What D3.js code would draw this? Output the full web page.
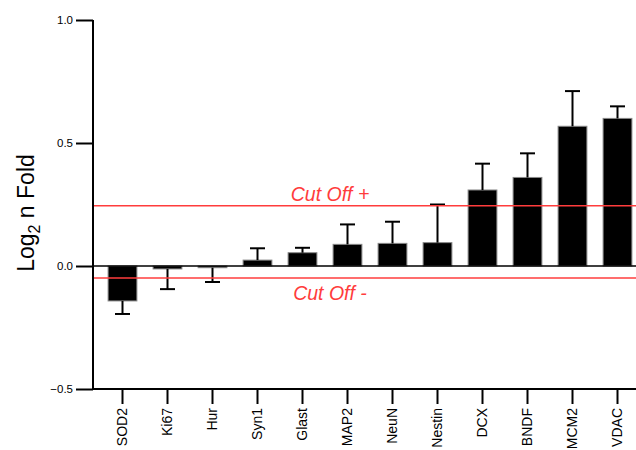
<!DOCTYPE html>
<html><head><meta charset="utf-8">
<script src="https://cdn.jsdelivr.net/npm/d3@7"></script>
<style>body{margin:0;background:#fff}svg{display:block}text{font-family:"Liberation Sans",Arial,Helvetica,sans-serif}</style>
</head><body>
<script>
const categories = ["SOD2","Ki67","Hur","Syn1","Glast","MAP2","NeuN","Nestin","DCX","BNDF","MCM2","VDAC"];
const values = [-0.142,-0.012,-0.007,0.024,0.054,0.088,0.092,0.095,0.309,0.360,0.568,0.600];
const errors = [0.053,0.082,0.058,0.048,0.020,0.081,0.088,0.155,0.107,0.098,0.143,0.049];
const yTicks = [-0.5,0,0.5,1.0];
const cutOffs = [{v:0.245,label:"Cut Off +",dy:-4.5},{v:-0.049,label:"Cut Off -",dy:21.5}];

const W=636,H=450;
const svg=d3.select("body").append("svg").attr("width",W).attr("height",H);
const y=d3.scaleLinear().domain([-0.5,1.0]).range([389,20]);
const x=d3.scaleBand().domain(categories).range([100,640]).paddingInner(0.36).paddingOuter(0.18);
const axL=93;
const red="#ff3c3c";

// bars
svg.selectAll("rect.bar").data(categories).enter().append("rect")
  .attr("x",d=>x(d)).attr("width",x.bandwidth())
  .attr("y",(d,i)=>y(Math.max(0,values[i])))
  .attr("height",(d,i)=>Math.abs(y(values[i])-y(0)))
  .attr("fill","#000").attr("stroke","#888").attr("stroke-width",1);

// error bars
const eb=svg.append("g").attr("stroke","#000").attr("stroke-width",2);
categories.forEach((c,i)=>{
  const cx=x(c)+x.bandwidth()/2;
  const v=values[i], e=values[i]>=0?v+errors[i]:v-errors[i];
  eb.append("line").attr("x1",cx).attr("x2",cx).attr("y1",y(v)).attr("y2",y(e));
  eb.append("line").attr("x1",cx-7.5).attr("x2",cx+7.5).attr("y1",y(e)).attr("y2",y(e));
});

// zero line
svg.append("line").attr("x1",axL).attr("x2",W).attr("y1",y(0)).attr("y2",y(0)).attr("stroke","#000").attr("stroke-width",1.5);

// cut off lines
cutOffs.forEach(c=>{
  svg.append("line").attr("x1",axL).attr("x2",W).attr("y1",y(c.v)).attr("y2",y(c.v)).attr("stroke",red).attr("stroke-width",1.5);
  svg.append("text").attr("x",330).attr("y",y(c.v)+c.dy).attr("text-anchor","middle")
    .attr("font-style","italic").attr("font-size",19.5).attr("fill",red).text(c.label);
});

// y axis
const ya=svg.append("g").attr("transform",`translate(${axL},0)`)
  .call(d3.axisLeft(y).tickValues(yTicks).tickSize(17).tickPadding(3).tickFormat(d3.format(".1f")));
ya.select(".domain").attr("stroke-width",2).attr("d",`M0,${y(1.0)}V${y(-0.5)}`);
ya.selectAll(".tick line").attr("stroke-width",2);
ya.selectAll("text").attr("font-size",11.5).attr("font-family","Liberation Sans, Arial, sans-serif").attr("fill","#000");

// x axis
const xa=svg.append("g").attr("transform",`translate(0,${y(-0.5)})`)
  .call(d3.axisBottom(x).tickSize(15).tickPadding(4));
xa.select(".domain").attr("stroke-width",2).attr("d",`M${axL},0H${W}`);
xa.selectAll(".tick line").attr("stroke-width",2);
xa.selectAll("text").attr("font-size",14).attr("font-family","Liberation Sans, Arial, sans-serif").attr("fill","#000")
  .attr("transform","rotate(-90)").attr("text-anchor","end").attr("x",-19).attr("y",0).attr("dy","0.35em");

// y label
const yl=svg.append("text").attr("transform","translate(34,213) rotate(-90)").attr("text-anchor","middle").attr("font-size",23).attr("fill","#000");
yl.append("tspan").text("Log");
yl.append("tspan").attr("font-size",16).attr("dy",6).text("2");
yl.append("tspan").attr("dy",-6).text(" n Fold");
</script>
</body></html>
